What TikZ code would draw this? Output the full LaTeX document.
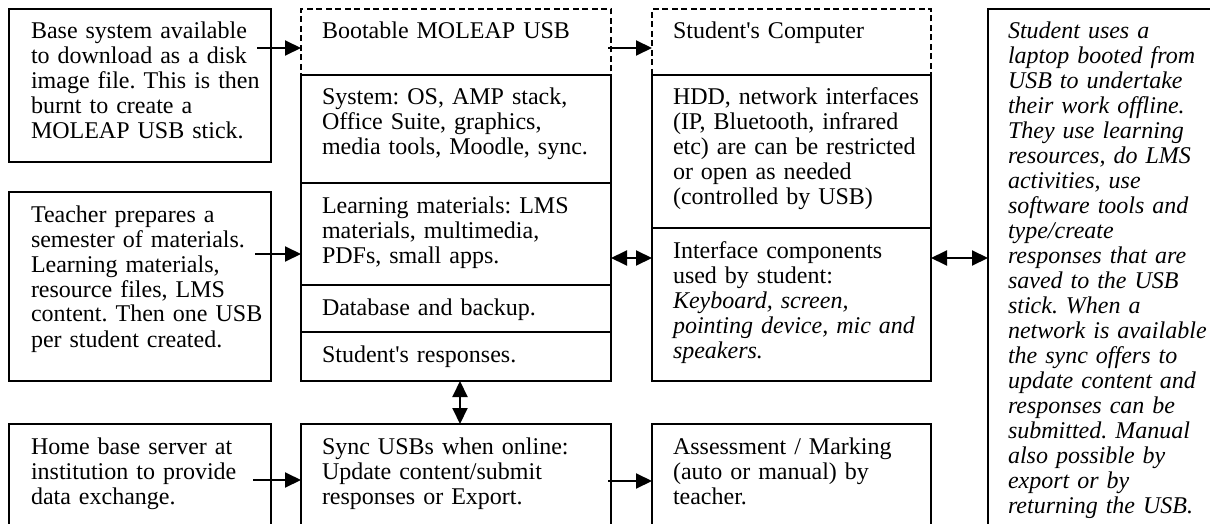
\documentclass[tikz,border=0pt]{standalone}
\usepackage{fontspec}
\setmainfont{Liberation Serif}[Ligatures=TeXOff]
\usetikzlibrary{arrows.meta}
\newcommand\fl{\rule{0pt}{18pt}}
\frenchspacing
\tikzset{
  sbox/.style={draw, line width=1.7pt, inner sep=0pt, outer sep=0pt, anchor=north west},
  dbox/.style={sbox, dash pattern=on 6pt off 3.5pt},
  txt/.style={anchor=north west, inner sep=0pt, outer sep=0pt, align=left, text width=#1,
    font=\fontsize{24pt}{25pt}\selectfont\frenchspacing},
  txt/.default=300pt,
  arr/.style={line width=2pt, -{Triangle[length=16pt,width=15pt]}},
  darr/.style={line width=2pt, {Triangle[length=16pt,width=15pt]}-{Triangle[length=16pt,width=15pt]}},
}
\begin{document}
\begin{tikzpicture}[x=1pt,y=-1pt]
\useasboundingbox (0,0) rectangle (1210,524);
\fill[white] (0,0) rectangle (1210,524);
\begin{scope}
\clip (0,0) rectangle (1210,524);
% left column
\node[sbox, minimum width=262pt, minimum height=153pt] (boxA) at (9,9) {};
\node[sbox, minimum width=262pt, minimum height=189pt] (boxB) at (9,192) {};
\node[sbox, minimum width=262pt, minimum height=130pt] (boxC) at (9,424) {};
% USB column
\node[dbox, minimum width=310pt, minimum height=66pt] (usbHead) at (301,9) {};
\node[sbox, minimum width=310pt, minimum height=108pt] (sys) at (301,75) {};
\node[sbox, minimum width=310pt, minimum height=102pt] (learn) at (301,183) {};
\node[sbox, minimum width=310pt, minimum height=47pt] (db) at (301,285) {};
\node[sbox, minimum width=310pt, minimum height=49pt] (resp) at (301,332) {};
\node[sbox, minimum width=310pt, minimum height=130pt] (sync) at (301,424) {};
% computer column
\node[dbox, minimum width=279pt, minimum height=66pt] (compHead) at (652,9) {};
\node[sbox, minimum width=279pt, minimum height=153pt] (hdd) at (652,75) {};
\node[sbox, minimum width=279pt, minimum height=153pt] (iface) at (652,228) {};
\node[sbox, minimum width=279pt, minimum height=130pt] (assess) at (652,424) {};
% far right
\node[sbox, minimum width=260pt, minimum height=560pt] (far) at (988,9) {};

% texts
\node[txt] (boxAT) at ([shift={(22pt,-12pt)}]boxA.north west)
  {\fl Base system available\\to download as a disk\\image file. This is then\\burnt to create a\\MOLEAP USB stick.};
\node[txt] (boxBT) at ([shift={(22pt,-12pt)}]boxB.north west)
  {\fl Teacher prepares a\\semester of materials.\\Learning materials,\\resource files, LMS\\content. Then one USB\\per student created.};
\node[txt] (boxCT) at ([shift={(22pt,-12pt)}]boxC.north west)
  {\fl Home base server at\\institution to provide\\data exchange.};
\node[txt] (usbHeadT) at ([shift={(21pt,-12pt)}]usbHead.north west)
  {\fl Bootable MOLEAP USB};
\node[txt] (sysT) at ([shift={(21pt,-12pt)}]sys.north west)
  {\fl System: OS, AMP stack,\\Office Suite, graphics,\\media tools, Moodle, sync.};
\node[txt] (learnT) at ([shift={(21pt,-12pt)}]learn.north west)
  {\fl Learning materials: LMS\\materials, multimedia,\\PDFs, small apps.};
\node[txt] (dbT) at ([shift={(21pt,-12pt)}]db.north west)
  {\fl Database and backup.};
\node[txt] (respT) at ([shift={(21pt,-12pt)}]resp.north west)
  {\fl Student's responses.};
\node[txt] (syncT) at ([shift={(21pt,-12pt)}]sync.north west)
  {\fl Sync USBs when online:\\Update content/submit\\responses or Export.};
\node[txt] (compHeadT) at ([shift={(21pt,-12pt)}]compHead.north west)
  {\fl Student's Computer};
\node[txt] (hddT) at ([shift={(21pt,-12pt)}]hdd.north west)
  {\fl HDD, network interfaces\\(IP, Bluetooth, infrared\\etc) are can be restricted\\or open as needed\\(controlled by USB)};
\node[txt] (ifaceT) at ([shift={(21pt,-12pt)}]iface.north west)
  {\fl Interface components\\used by student:\\\textit{Keyboard, screen,}\\\textit{pointing device, mic and}\\\textit{speakers.}};
\node[txt] (assessT) at ([shift={(21pt,-12pt)}]assess.north west)
  {\fl Assessment / Marking\\(auto or manual) by\\teacher.};
\node[txt] (farT) at ([shift={(20pt,-12pt)}]far.north west)
  {\itshape\fl Student uses a\\laptop booted from\\USB to undertake\\their work offline.\\They use learning\\resources, do LMS\\activities, use\\software tools and\\type/create\\responses that are\\saved to the USB\\stick. When a\\network is available\\the sync offers to\\update content and\\responses can be\\submitted. Manual\\also possible by\\export or by\\returning the USB.};

% connectors
\coordinate (a1s) at (257,48);
\draw[arr] (a1s) -- (a1s -| usbHead.west);
\coordinate (a2s) at (608,48);
\draw[arr] (a2s) -- (a2s -| compHead.west);
\coordinate (a3s) at (255,254);
\draw[arr] (a3s) -- (a3s -| learn.west);
\coordinate (a4) at (611,258);
\draw[darr] (learn.east |- a4) -- (a4 -| iface.west);
\coordinate (a5) at (931,258);
\draw[darr] (iface.east |- a5) -- (a5 -| far.west);
\coordinate (a6) at (460,381);
\draw[darr] (a6 |- resp.south) -- (a6 |- sync.north);
\coordinate (a7s) at (253,480);
\draw[arr] (a7s) -- (a7s -| sync.west);
\coordinate (a8s) at (608,481);
\draw[arr] (a8s) -- (a8s -| assess.west);
\end{scope}
\end{tikzpicture}
\end{document}
